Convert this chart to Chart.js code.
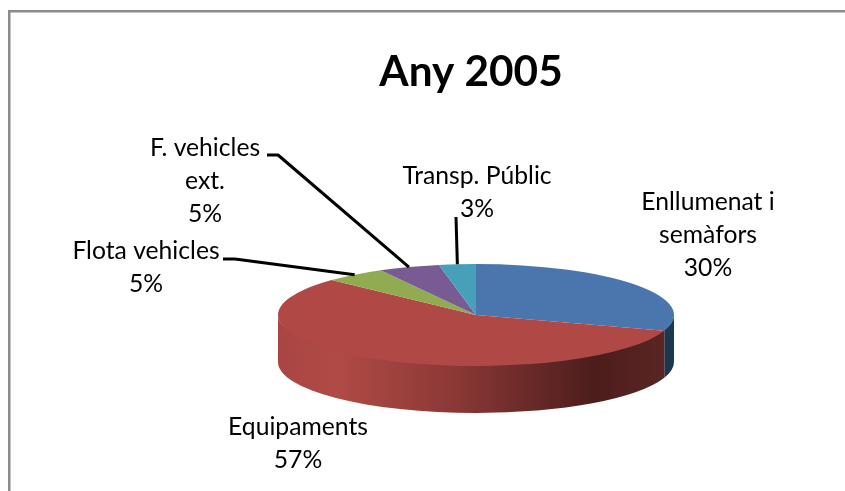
<!DOCTYPE html>
<html>
<head>
<meta charset="utf-8">
<style>
html,body{margin:0;padding:0;background:#fff;overflow:hidden}
#wrap{position:relative;width:845px;height:491px}
</style>
<script src="https://cdn.jsdelivr.net/npm/chart.js@4"></script>
</head>
<body>
<div id="wrap"><canvas id="c" width="845" height="491"></canvas></div>
<script>
const chartTitle = "Any 2005";
const categories = ["Enllumenat i semàfors", "Equipaments", "Flota vehicles", "F. vehicles ext.", "Transp. Públic"];
const categoryLines = [["Enllumenat i", "semàfors"], ["Equipaments"], ["Flota vehicles"], ["F. vehicles", "ext."], ["Transp. Públic"]];
const values = [30, 57, 5, 5, 3];
const colors = ["#4A76AD", "#B04946", "#91AC50", "#775B92", "#47A0B9"];

const FONT = "Lato, 'Open Sans', sans-serif";
const PIE = {cy: 315, squash: 51 / 198, depth: 47, radius: 198, shiftX: 5};
const LABEL_POS = [
  {x: 708, y: 202},
  {x: 298, y: 427},
  {x: 146, y: 251},
  {x: 205, y: 148},
  {x: 477, y: 176}
];
const LEADERS = [
  null,
  null,
  [[223, 259], [235, 259]],
  [[267, 155], [278, 155]],
  [[456, 217]]
];

const pie3d = {
  id: 'pie3d',
  beforeDatasetsDraw(chart) {
    const ctx = chart.ctx, arcs = chart.getDatasetMeta(0).data;
    const cx = arcs[0].x + PIE.shiftX, r = PIE.radius, ry = r * PIE.squash;
    const sides = [];
    sides[0] = "#1F3650";
    const g = ctx.createLinearGradient(cx - r, 0, cx + r, 0);
    g.addColorStop(0, "#A84643");
    g.addColorStop(0.15, "#B04A46");
    g.addColorStop(0.45, "#8A3835");
    g.addColorStop(0.80, "#4C1D1C");
    g.addColorStop(0.97, "#5A2523");
    g.addColorStop(1, "#5A2523");
    sides[1] = g;
    arcs.forEach((a, i) => {
      const s = Math.max(a.startAngle, 0), e = Math.min(a.endAngle, Math.PI);
      if (e <= s || !sides[i]) return;
      ctx.beginPath();
      ctx.ellipse(cx, PIE.cy, r, ry - 3, 0, s, e);
      ctx.ellipse(cx, PIE.cy + PIE.depth, r, ry, 0, e, s, true);
      ctx.closePath();
      ctx.fillStyle = sides[i];
      ctx.fill();
    });
    ctx.save();
    ctx.translate(cx, PIE.cy);
    ctx.scale(1, PIE.squash);
    ctx.translate(-arcs[0].x, -arcs[0].y);
  },
  afterDatasetsDraw(chart) {
    const ctx = chart.ctx, arcs = chart.getDatasetMeta(0).data;
    ctx.restore();
    const cx = arcs[0].x + PIE.shiftX, r = PIE.radius, ry = r * PIE.squash;
    // frame
    ctx.fillStyle = "#8C8C8C";
    ctx.fillRect(8, 10, 837, 2.5);
    ctx.fillRect(8, 10, 2.5, 481);
    // leader lines
    ctx.strokeStyle = "#000";
    ctx.lineWidth = 3;
    ctx.lineJoin = "round";
    arcs.forEach((a, i) => {
      if (!LEADERS[i]) return;
      const mid = (a.startAngle + a.endAngle) / 2;
      ctx.beginPath();
      LEADERS[i].forEach((p, k) => k ? ctx.lineTo(p[0], p[1]) : ctx.moveTo(p[0], p[1]));
      ctx.lineTo(cx + r * Math.cos(mid), PIE.cy + ry * Math.sin(mid));
      ctx.stroke();
    });
    // data labels
    ctx.fillStyle = "#000";
    ctx.font = "24.7px " + FONT;
    ctx.textAlign = "center";
    ctx.textBaseline = "middle";
    categoryLines.forEach((lines, i) => {
      const all = lines.concat([values[i] + "%"]);
      all.forEach((t, k) => ctx.fillText(t, LABEL_POS[i].x, LABEL_POS[i].y + k * 33));
    });
  }
};

new Chart(document.getElementById('c'), {
  type: 'pie',
  data: {
    labels: categories,
    datasets: [{data: values, backgroundColor: colors, borderWidth: 0, clip: false}]
  },
  options: {
    responsive: false,
    animation: false,
    radius: PIE.radius,
    layout: {padding: {left: 97, right: 0, top: 0, bottom: 0}},
    plugins: {
      legend: {display: false},
      tooltip: {enabled: false},
      title: {
        display: true,
        text: chartTitle,
        color: "#000",
        font: {family: FONT, size: 42.3, weight: "bold"},
        padding: {top: 47, bottom: 10}
      }
    }
  },
  plugins: [pie3d]
});
</script>
</body>
</html>
